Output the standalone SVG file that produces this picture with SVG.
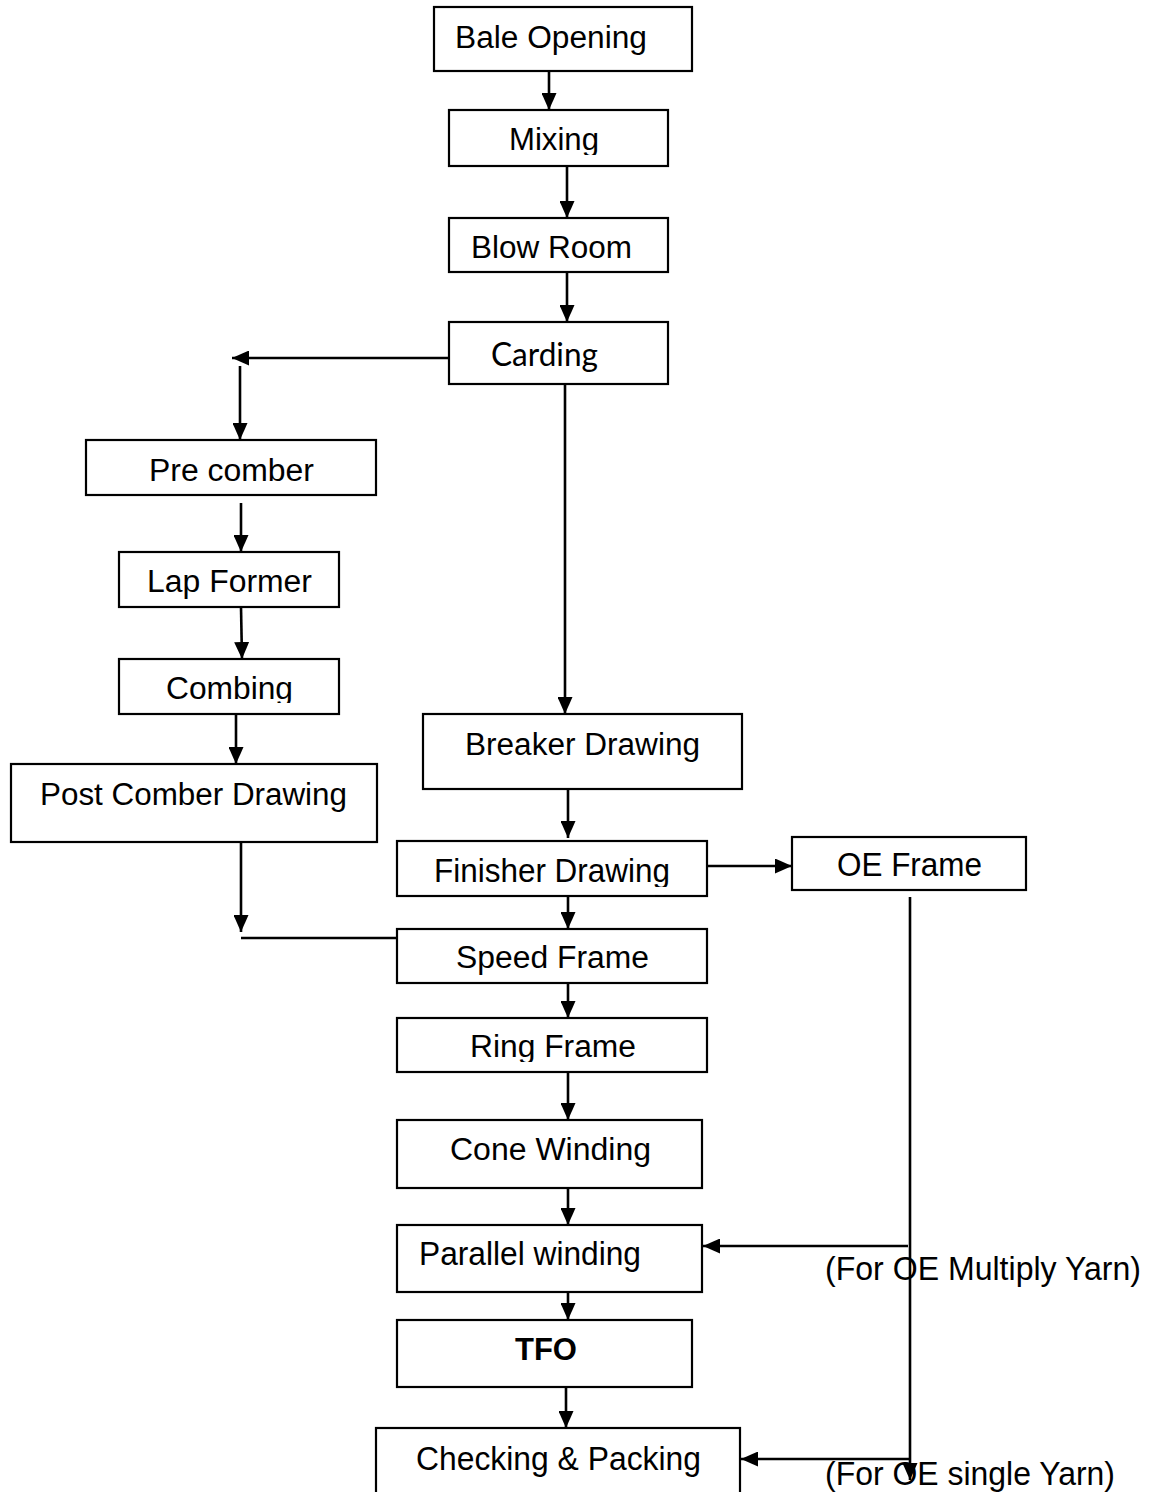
<svg xmlns="http://www.w3.org/2000/svg" width="1152" height="1492" viewBox="0 0 1152 1492">
<style>
.box{fill:#fff;stroke:#000;stroke-width:2.2}
.t{font-family:"Liberation Sans",Arial,sans-serif;font-size:31px;fill:#000}
.n{font-size:33px}
.c{font-family:Lato,"Open Sans",sans-serif;font-size:32px;fill:#000}
.b{font-weight:bold}
.ln{fill:none;stroke:#000;stroke-width:2.6}
</style>
<defs>
<marker id="ah" viewBox="0 0 17 15" refX="17" refY="7.5" markerWidth="17" markerHeight="15" markerUnits="userSpaceOnUse" orient="auto">
<path d="M0,0 L17,7.5 L0,15 Z" fill="#000"/>
</marker>
<clipPath id="cMix"><rect x="449" y="110" width="219" height="45"/></clipPath>
<clipPath id="cComb"><rect x="119" y="659" width="220" height="44"/></clipPath>
<clipPath id="cFin"><rect x="397" y="841" width="310" height="46"/></clipPath>
<clipPath id="cRing"><rect x="397" y="1018" width="310" height="44"/></clipPath>
</defs>
<rect width="1152" height="1492" fill="#fff"/>

<g id="connectors">
<line class="ln" x1="549" y1="71" x2="549" y2="110" marker-end="url(#ah)"/>
<line class="ln" x1="567" y1="166" x2="567" y2="218" marker-end="url(#ah)"/>
<line class="ln" x1="567" y1="272" x2="567" y2="322" marker-end="url(#ah)"/>
<line class="ln" x1="449" y1="358" x2="232" y2="358" marker-end="url(#ah)"/>
<line class="ln" x1="240" y1="366" x2="240" y2="440" marker-end="url(#ah)"/>
<line class="ln" x1="241" y1="503" x2="241" y2="552" marker-end="url(#ah)"/>
<line class="ln" x1="241" y1="607" x2="242" y2="659" marker-end="url(#ah)"/>
<line class="ln" x1="236" y1="714" x2="236" y2="764" marker-end="url(#ah)"/>
<line class="ln" x1="241" y1="835" x2="241" y2="932" marker-end="url(#ah)"/>
<line class="ln" x1="241" y1="938" x2="397" y2="938"/>
<line class="ln" x1="565" y1="384" x2="565" y2="714" marker-end="url(#ah)"/>
<line class="ln" x1="568" y1="789" x2="568" y2="838" marker-end="url(#ah)"/>
<line class="ln" x1="568" y1="896" x2="568" y2="929" marker-end="url(#ah)"/>
<line class="ln" x1="707" y1="866" x2="792" y2="866" marker-end="url(#ah)"/>
<line class="ln" x1="568" y1="983" x2="568" y2="1018" marker-end="url(#ah)"/>
<line class="ln" x1="568" y1="1072" x2="568" y2="1120" marker-end="url(#ah)"/>
<line class="ln" x1="568" y1="1188" x2="568" y2="1225" marker-end="url(#ah)"/>
<line class="ln" x1="568" y1="1292" x2="568" y2="1320" marker-end="url(#ah)"/>
<line class="ln" x1="566" y1="1387" x2="566" y2="1428" marker-end="url(#ah)"/>
<line class="ln" x1="910" y1="897" x2="910" y2="1480" marker-end="url(#ah)"/>
<line class="ln" x1="908" y1="1246" x2="703" y2="1246" marker-end="url(#ah)"/>
<line class="ln" x1="910" y1="1459" x2="741" y2="1459" marker-end="url(#ah)"/>
</g>

<g id="bale"><rect class="box" x="434" y="7" width="258" height="64"/><text class="t" x="455" y="48" textLength="192" lengthAdjust="spacingAndGlyphs">Bale Opening</text></g>
<g id="mixing"><rect class="box" x="449" y="110" width="219" height="56"/><text class="t" x="509" y="150" textLength="90" lengthAdjust="spacingAndGlyphs" clip-path="url(#cMix)">Mixing</text></g>
<g id="blowroom"><rect class="box" x="449" y="218" width="219" height="54"/><text class="t" x="471" y="258" textLength="161" lengthAdjust="spacingAndGlyphs">Blow Room</text></g>
<g id="carding"><rect class="box" x="449" y="322" width="219" height="62"/><text class="c" x="491" y="366" textLength="107" lengthAdjust="spacingAndGlyphs">Carding</text></g>
<g id="precomber"><rect class="box" x="86" y="440" width="290" height="55"/><text class="t" x="149" y="481" textLength="165" lengthAdjust="spacingAndGlyphs">Pre comber</text></g>
<g id="lapformer"><rect class="box" x="119" y="552" width="220" height="55"/><text class="t" x="147" y="592" textLength="165" lengthAdjust="spacingAndGlyphs">Lap Former</text></g>
<g id="combing"><rect class="box" x="119" y="659" width="220" height="55"/><text class="t" x="166" y="699" textLength="127" lengthAdjust="spacingAndGlyphs" clip-path="url(#cComb)">Combing</text></g>
<g id="postcomber"><rect class="box" x="11" y="764" width="366" height="78"/><text class="t" x="40" y="805" textLength="307" lengthAdjust="spacingAndGlyphs">Post Comber Drawing</text></g>
<g id="breaker"><rect class="box" x="423" y="714" width="319" height="75"/><text class="t" x="465" y="755" textLength="235" lengthAdjust="spacingAndGlyphs">Breaker Drawing</text></g>
<g id="finisher"><rect class="box" x="397" y="841" width="310" height="55"/><text class="t n" x="434" y="882" textLength="236" lengthAdjust="spacingAndGlyphs" clip-path="url(#cFin)">Finisher Drawing</text></g>
<g id="oeframe"><rect class="box" x="792" y="837" width="234" height="53"/><text class="t n" x="837" y="876" textLength="145" lengthAdjust="spacingAndGlyphs">OE Frame</text></g>
<g id="speedframe"><rect class="box" x="397" y="929" width="310" height="54"/><text class="t" x="456" y="968" textLength="193" lengthAdjust="spacingAndGlyphs">Speed Frame</text></g>
<g id="ringframe"><rect class="box" x="397" y="1018" width="310" height="54"/><text class="t" x="470" y="1057" textLength="166" lengthAdjust="spacingAndGlyphs" clip-path="url(#cRing)">Ring Frame</text></g>
<g id="conewinding"><rect class="box" x="397" y="1120" width="305" height="68"/><text class="t" x="450" y="1160" textLength="201" lengthAdjust="spacingAndGlyphs">Cone Winding</text></g>
<g id="parallel"><rect class="box" x="397" y="1225" width="305" height="67"/><text class="t n" x="419" y="1265" textLength="222" lengthAdjust="spacingAndGlyphs">Parallel winding</text></g>
<g id="tfo"><rect class="box" x="397" y="1320" width="295" height="67"/><text class="t b" x="515" y="1360" textLength="62" lengthAdjust="spacingAndGlyphs">TFO</text></g>
<g id="checking"><rect class="box" x="376" y="1428" width="364" height="70"/><text class="t n" x="416" y="1470" textLength="285" lengthAdjust="spacingAndGlyphs">Checking &amp; Packing</text></g>

<g id="labels">
<text class="t n" x="825" y="1280" textLength="316" lengthAdjust="spacingAndGlyphs">(For OE Multiply Yarn)</text>
<text class="t n" x="825" y="1485" textLength="290" lengthAdjust="spacingAndGlyphs">(For OE single Yarn)</text>
</g>
</svg>
